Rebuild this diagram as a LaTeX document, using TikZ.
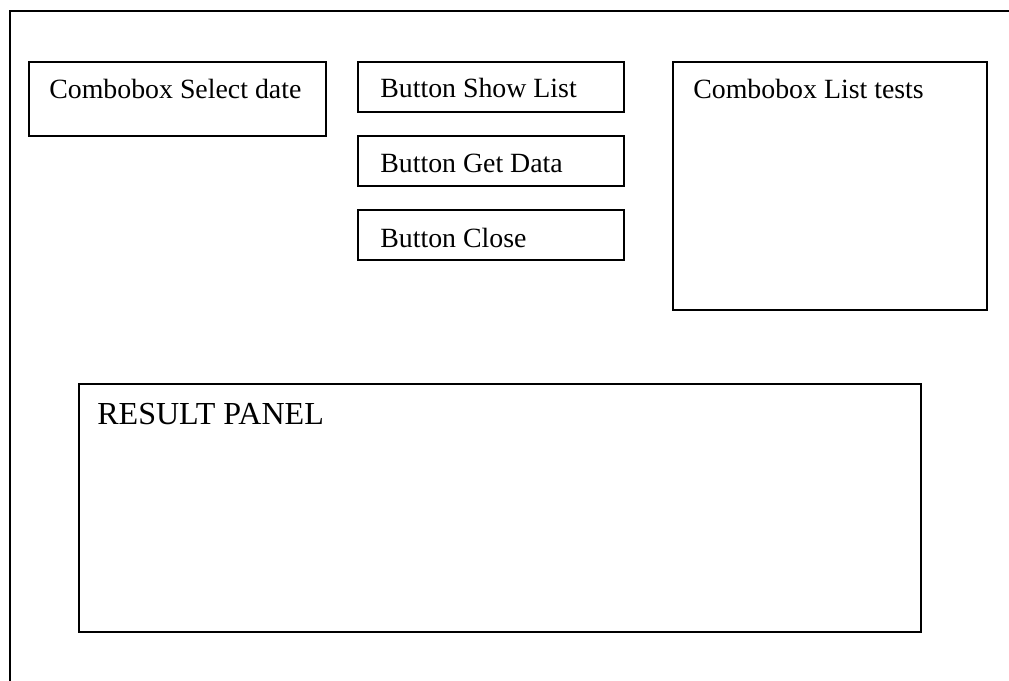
\documentclass[tikz,border=0pt]{standalone}
\usepackage{fontspec}
\setmainfont{Liberation Serif}

\tikzset{
  widget/.style={draw, line width=1.3pt, inner sep=0pt, anchor=north west},
  caption/.style={anchor=base west, inner sep=0pt, font=\fontsize{19.8}{24}\selectfont},
  bigcaption/.style={anchor=base west, inner sep=0pt, font=\fontsize{22.8}{27}\selectfont}
}

\begin{document}
\begin{tikzpicture}[x=0.025cm, y=-0.025cm]

    \useasboundingbox (0,0) rectangle (1009,680);

    % window frame (cut off at right and bottom)
    \coordinate (FrameBL) at (10,681);
    \coordinate (FrameTL) at (10,11);
    \coordinate (FrameTR) at (1010,11);
    \draw [line width=1.5pt] (FrameBL) -- (FrameTL) -- (FrameTR);

    % widgets
    \node [widget, minimum width=7.425cm, minimum height=1.85cm] (SelectDate) at (28,61) {};
    \node [widget, minimum width=6.65cm, minimum height=1.25cm] (ShowList) at (357,61) {};
    \node [widget, minimum width=6.65cm, minimum height=1.25cm] (GetData) at (357,135) {};
    \node [widget, minimum width=6.65cm, minimum height=1.25cm] (Close) at (357,209) {};
    \node [widget, minimum width=7.85cm, minimum height=6.2cm] (ListTests) at (672,61) {};
    \node [widget, minimum width=21.05cm, minimum height=6.2cm] (ResultPanel) at (78,383) {};

    % captions
    \node [caption] (SelectDateText) at ([shift={(21,37)}]SelectDate.north west) {Combobox Select date};
    \node [caption] (ShowListText) at ([shift={(23,36)}]ShowList.north west) {Button Show List};
    \node [caption] (GetDataText) at ([shift={(23,37)}]GetData.north west) {Button Get Data};
    \node [caption] (CloseText) at ([shift={(23,38)}]Close.north west) {Button Close};
    \node [caption] (ListTestsText) at ([shift={(21,37)}]ListTests.north west) {Combobox List tests};
    \node [bigcaption] (ResultPanelText) at ([shift={(19,41)}]ResultPanel.north west) {RESULT PANEL};

\end{tikzpicture}
\end{document}
